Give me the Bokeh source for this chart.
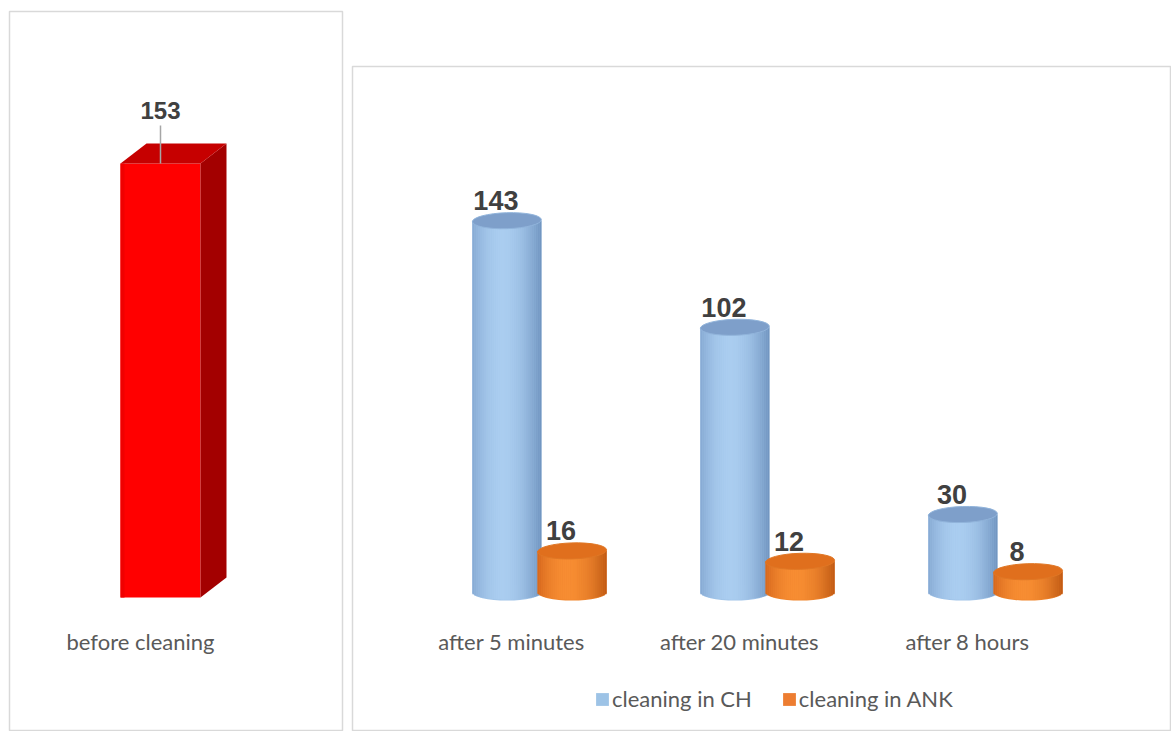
import numpy as np
from bokeh.plotting import figure
from bokeh.layouts import row, column
from bokeh.models import Range1d, Legend, LegendItem, Spacer
from bokeh.core.properties import value
from bokeh.embed import file_html
from bokeh.resources import INLINE

# ---------------- data ----------------
left_categories = ["before cleaning"]
left_values = [153]

categories = ["after 5 minutes", "after 20 minutes", "after 8 hours"]
series_names = ["cleaning in CH", "cleaning in ANK"]
ch_values = [143, 102, 30]
ank_values = [16, 12, 8]

# ---------------- styles ----------------
CAT_FONT = "Lato"
NUM_FONT = "Liberation Sans"
CAT_COLOR = "#595959"
NUM_COLOR = "#404040"
BORDER = "#d9d9d9"


def hex2rgb(h):
    h = h.lstrip("#")
    return np.array([int(h[i:i + 2], 16) for i in (0, 2, 4)], dtype=float)


def rgb2hex(c):
    c = np.clip(np.round(c), 0, 255).astype(int)
    return "#%02x%02x%02x" % tuple(c)


def shade(u, left, center, right, hl=-0.15):
    if u < hl:
        f = ((u - hl) / (-1 - hl)) ** 2
        return rgb2hex(hex2rgb(center) * (1 - f) + hex2rgb(left) * f)
    f = ((u - hl) / (1 - hl)) ** 2
    return rgb2hex(hex2rgb(center) * (1 - f) + hex2rgb(right) * f)


# ================= LEFT PANEL =================
L_PX = 2.837           # px per unit
TOP = 11
L_ZERO = 597 - TOP     # px from frame top to zero
L_FRAME = 731 - TOP
lp = figure(width=346, height=731, output_backend="svg", toolbar_location=None,
            x_axis_location=None, y_axis_location=None,
            min_border_left=9, min_border_right=4, min_border_top=TOP, min_border_bottom=0,
            x_range=Range1d(-1.51, 1.82),
            y_range=Range1d(-(L_FRAME - L_ZERO) / L_PX, L_ZERO / L_PX))
lp.grid.visible = False
lp.outline_line_color = BORDER
lp.outline_line_width = 1.5
lp.border_fill_color = "white"

bar_w = 0.8
dx = 0.26
dy = 20 / L_PX
lx = list(range(len(left_values)))
lp.vbar(x=lx, top=left_values, width=bar_w, bottom=0, fill_color="#ff0000", line_color=None)
lp.vbar(x=[x - bar_w / 2 + 0.02 for x in lx], top=left_values, width=0.04, bottom=0,
        fill_color="#f00000", line_color=None)
side_xs = [[x + bar_w / 2, x + bar_w / 2 + dx, x + bar_w / 2 + dx, x + bar_w / 2] for x in lx]
side_ys = [[0, dy, v + dy, v] for v in left_values]
lp.patches(side_xs, side_ys, fill_color="#a30000", line_color=None)
top_xs = [[x - bar_w / 2, x + bar_w / 2, x + bar_w / 2 + dx, x - bar_w / 2 + dx] for x in lx]
top_ys = [[v, v, v + dy, v + dy] for v in left_values]
lp.patches(top_xs, top_ys, fill_color="#c60000", line_color=None)
lp.segment(x0=lx, y0=left_values, x1=lx, y1=[v + 38 / L_PX for v in left_values],
           line_color="#a6a6a6", line_width=1.5)
lp.text(x=lx, y=left_values, text=[str(v) for v in left_values], y_offset=-53,
        text_align="center", text_baseline="alphabetic", text_font=value(NUM_FONT),
        text_font_style="bold", text_font_size="24px", text_color=NUM_COLOR)
lp.text(x=lx, y=[0] * len(lx), text=left_categories, x_offset=-20, y_offset=44,
        text_align="center", text_baseline="middle", text_font=value(CAT_FONT),
        text_font_size="22px", text_color=CAT_COLOR)

# ================= RIGHT PANEL =================
SPACE = 55
R_TOP = 66 - SPACE
R_PX = 2.6
R_ZERO = 592 - 66
R_FRAME = 731 - 66
X_PX = 228
x_start = -(539 - 352) / X_PX
rp = figure(width=825, height=731 - SPACE, output_backend="svg", toolbar_location=None,
            x_axis_location=None, y_axis_location=None,
            min_border_left=6, min_border_right=0, min_border_top=R_TOP, min_border_bottom=0,
            x_range=Range1d(x_start, x_start + 819 / X_PX),
            y_range=Range1d(-(R_FRAME - R_ZERO) / R_PX, R_ZERO / R_PX))
rp.grid.visible = False
rp.outline_line_color = BORDER
rp.outline_line_width = 1.5
rp.border_fill_color = "white"

cyl_w = 69 / X_PX
ell_h = 16 / R_PX
offset = 0.143
N = 36
gx = np.arange(len(categories))

series = [
    (ch_values, -offset, "#9dc3e6", ("#86a9d3", "#aacdf0", "#6f93bf"), "#7e9fca"),
    (ank_values, offset, "#ed7d31", ("#d5661c", "#f78d32", "#c05a14"), "#e06f1d"),
]
legend_items = []
for (vals, off, base_col, grad, top_col), name in zip(series, series_names):
    xs = gx + off
    base = rp.vbar(x=xs, top=vals, bottom=0, width=cyl_w, fill_color=base_col, line_color=None)
    rp.ellipse(x=xs, y=[0] * len(xs), width=cyl_w, height=ell_h,
               fill_color=shade(0.3, *grad), line_color=None)
    for k in range(N):
        u = -1 + (2 * k + 1) / N
        sx = xs + u * cyl_w / 2
        bot = -ell_h / 2 * np.sqrt(max(0.0, 1 - u * u)) * 0.9
        rp.vbar(x=sx, top=vals, bottom=bot, width=cyl_w / N * 1.1,
                fill_color=shade(u, *grad), line_color=None)
    rp.ellipse(x=xs, y=vals, width=cyl_w, height=ell_h, fill_color=top_col,
               line_color=shade(0.6, *grad), line_width=1, angle=0.03)
    rp.text(x=xs, y=vals, text=[str(v) for v in vals], x_offset=-11, y_offset=-20,
            text_align="center", text_baseline="alphabetic", text_font=value(NUM_FONT),
            text_font_style="bold", text_font_size="27px", text_color=NUM_COLOR)
    legend_items.append(LegendItem(label=name, renderers=[base]))

rp.text(x=gx, y=[0] * len(gx), text=categories, x_offset=-28, y_offset=49,
        text_align="center", text_baseline="middle", text_font=value(CAT_FONT),
        text_font_size="22px", text_color=CAT_COLOR)

legend = Legend(items=legend_items, orientation="horizontal", location=(242, 19),
                glyph_width=16, glyph_height=16, label_standoff=2, spacing=29,
                padding=0, margin=0, border_line_color=None, background_fill_alpha=0,
                label_text_font=CAT_FONT, label_text_font_size="22px",
                label_text_color=CAT_COLOR)
rp.add_layout(legend)

layout = row(lp, column(Spacer(width=825, height=SPACE), rp, spacing=0), spacing=0)
open("out.html", "w").write(file_html(layout, INLINE))
